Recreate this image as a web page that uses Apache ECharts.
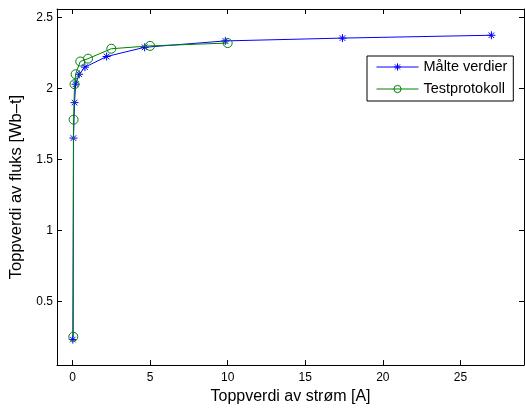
<!DOCTYPE html>
<html><head><meta charset="utf-8">
<script src="https://cdn.jsdelivr.net/npm/echarts@6/dist/echarts.min.js"></script>
<style>html,body{margin:0;padding:0;background:#fff}#c{width:525px;height:410px}</style>
</head><body><div id="c"></div>
<script>
const measuredX = [0.02, 0.06, 0.13, 0.2, 0.43, 0.8, 2.2, 4.65, 9.85, 17.4, 27.0];
const measuredY = [0.23, 1.65, 1.9, 2.03, 2.1, 2.15, 2.225, 2.29, 2.335, 2.355, 2.375];
const testX = [0.05, 0.07, 0.13, 0.2, 0.5, 1.0, 2.5, 5.0, 10.0];
const testY = [0.25, 1.78, 2.03, 2.1, 2.19, 2.21, 2.28, 2.3, 2.32];
const xTicks = [0, 5, 10, 15, 20, 25];
const yTicks = [0.5, 1, 1.5, 2, 2.5];
const seriesNames = ['Målte verdier', 'Testprotokoll'];
const xTitle = 'Toppverdi av strøm [A]';
const yTitle = 'Toppverdi av fluks [Wb–t]';

const star = 'path://M0,-5L0,5M-5,0L5,0M-3.5,-3.5L3.5,3.5M-3.5,3.5L3.5,-3.5';
const font = 'Liberation Sans, Arial, Helvetica, sans-serif';
const chart = echarts.init(document.getElementById('c'), null, {renderer: 'canvas'});
const axisLineStyle = {show: true, onZero: false, lineStyle: {color: '#000', width: 1}};
const baseX = {
  type: 'value', min: -1, max: 29.1,
  axisLine: axisLineStyle, splitLine: {show: false},
  axisTick: {show: true, inside: true, length: 5, customValues: xTicks, lineStyle: {color: '#000'}},
};
const baseY = {
  type: 'value', min: 0.05, max: 2.56,
  axisLine: axisLineStyle, splitLine: {show: false},
  axisTick: {show: true, inside: true, length: 5, customValues: yTicks, lineStyle: {color: '#000'}},
};
const blueItem = {color: 'rgba(0,0,0,0)', borderColor: '#0000ff', borderWidth: 1};
const greenItem = {color: 'rgba(0,0,0,0)', borderColor: '#008000', borderWidth: 1};
chart.setOption({
  animation: false,
  textStyle: {fontFamily: font},
  grid: {left: 57, right: 1, top: 9, bottom: 44, containLabel: false},
  legend: {
    orient: 'vertical', left: 367, top: 56,
    backgroundColor: '#fff', borderColor: '#000', borderWidth: 1, borderRadius: 0,
    padding: [3, 6, 4, 9], itemGap: 6, itemWidth: 42, itemHeight: 9,
    lineStyle: {width: 1},
    textStyle: {fontFamily: font, fontSize: 14.5, lineHeight: 16, color: '#000'},
    data: [
      {name: seriesNames[0], itemStyle: blueItem},
      {name: seriesNames[1], itemStyle: greenItem}
    ]
  },
  xAxis: [
    Object.assign({}, baseX, {
      position: 'bottom',
      name: xTitle, nameLocation: 'middle', nameGap: 23,
      nameTextStyle: {fontFamily: font, fontSize: 16, color: '#000'},
      axisLabel: {show: true, customValues: xTicks, color: '#000', fontSize: 12, fontFamily: font, margin: 7}
    }),
    Object.assign({}, baseX, {position: 'top', axisLabel: {show: false}})
  ],
  yAxis: [
    Object.assign({}, baseY, {
      position: 'left',
      name: yTitle, nameLocation: 'middle', nameGap: 30, nameRotate: 90,
      nameTextStyle: {fontFamily: font, fontSize: 16.5, color: '#000'},
      axisLabel: {show: true, customValues: yTicks, color: '#000', fontSize: 12, fontFamily: font, margin: 4}
    }),
    Object.assign({}, baseY, {position: 'right', axisLabel: {show: false}})
  ],
  series: [
    {
      name: seriesNames[0], type: 'line', xAxisIndex: 0, yAxisIndex: 0,
      data: measuredX.map((x, i) => [x, measuredY[i]]),
      symbol: star, symbolSize: 8, showAllSymbol: true,
      lineStyle: {color: '#0000ff', width: 1},
      itemStyle: blueItem,
      z: 2
    },
    {
      name: seriesNames[1], type: 'line', xAxisIndex: 0, yAxisIndex: 0,
      data: testX.map((x, i) => [x, testY[i]]),
      symbol: 'circle', symbolSize: 9, showAllSymbol: true,
      lineStyle: {color: '#008000', width: 1},
      itemStyle: greenItem,
      z: 3
    }
  ]
});
</script></body></html>
